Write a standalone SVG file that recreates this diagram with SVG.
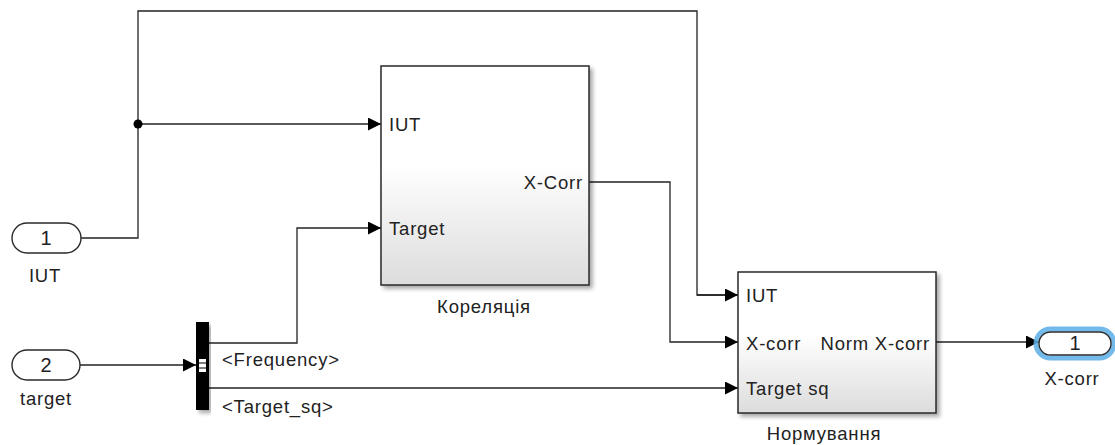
<svg xmlns="http://www.w3.org/2000/svg" width="1115" height="445" viewBox="0 0 1115 445">
  <defs>
    <linearGradient id="blockFill" x1="0" y1="0" x2="0" y2="1">
      <stop offset="0" stop-color="#ffffff"/>
      <stop offset="0.45" stop-color="#ffffff"/>
      <stop offset="1" stop-color="#dcdcdc"/>
    </linearGradient>
    <filter id="shadow" x="-10%" y="-10%" width="125%" height="125%">
      <feGaussianBlur in="SourceAlpha" stdDeviation="2"/>
      <feOffset dx="3" dy="3" result="b"/>
      <feComponentTransfer><feFuncA type="linear" slope="0.35"/></feComponentTransfer>
      <feMerge><feMergeNode/><feMergeNode in="SourceGraphic"/></feMerge>
    </filter>
    <marker id="arrow" viewBox="0 0 10 10" refX="10" refY="5" markerWidth="14" markerHeight="13" markerUnits="userSpaceOnUse" orient="auto">
      <path d="M0,0 L10,5 L0,10 z" fill="#000"/>
    </marker>
  </defs>
  <style>
    text { font-family: "Liberation Sans", Arial, sans-serif; fill: #222; font-size: 18.5px; letter-spacing: 0.8px; }
    .mid { text-anchor: middle; }
    .end { text-anchor: end; }
    .num { font-size: 20px; text-anchor: middle; letter-spacing: 0; }
    .blk { fill: url(#blockFill); stroke: #2a2a2a; stroke-width: 1.5; filter: url(#shadow); }
    .pill { fill: #fff; stroke: #2a2a2a; stroke-width: 1.4; }
    .wire { fill: none; stroke: #222; stroke-width: 1.3; }
    .arr { marker-end: url(#arrow); }
  </style>

  <!-- connectors -->
  <g id="connectors">
    <polyline class="wire" points="81,238 138,238 138,11 697,11 697,295 737,295"/>
    <line class="wire arr" x1="697" y1="295" x2="738" y2="295"/>
    <line class="wire arr" x1="138" y1="124" x2="381" y2="124"/>
    <circle cx="138" cy="124" r="4.5" fill="#000"/>
    <line class="wire arr" x1="80" y1="365" x2="196" y2="365"/>
    <polyline class="wire arr" points="209,343 297,343 297,228 381,228"/>
    <line class="wire arr" x1="209" y1="388" x2="738" y2="388"/>
    <polyline class="wire arr" points="589,182 670,182 670,342 738,342"/>
    <line class="wire arr" x1="936" y1="342" x2="1039" y2="342"/>
    <text x="222" y="366">&lt;Frequency&gt;</text>
    <text x="222" y="413">&lt;Target_sq&gt;</text>
  </g>

  <!-- input port 1 -->
  <g id="in1">
    <rect class="pill" x="12" y="223" width="69" height="30" rx="15"/>
    <text class="num" x="46" y="245">1</text>
    <text class="mid" x="45" y="282">IUT</text>
  </g>

  <!-- input port 2 -->
  <g id="in2">
    <rect class="pill" x="12" y="350" width="68" height="30" rx="15"/>
    <text class="num" x="46" y="372">2</text>
    <text class="mid" x="46" y="405">target</text>
  </g>

  <!-- bus selector -->
  <g id="busSelector">
    <rect x="196" y="322" width="13" height="88" fill="#000" filter="url(#shadow)"/>
    <rect x="199" y="359" width="7" height="13" fill="#fff"/>
    <line x1="199" y1="363" x2="206" y2="363" stroke="#000" stroke-width="1"/>
    <line x1="199" y1="368" x2="206" y2="368" stroke="#000" stroke-width="1"/>
  </g>

  <!-- correlation subsystem -->
  <g id="correlation">
    <rect class="blk" x="381" y="66" width="208" height="219"/>
    <text x="389" y="131">IUT</text>
    <text x="389" y="235">Target</text>
    <text class="end" x="583" y="189">X-Corr</text>
    <text class="mid" x="484" y="313">Кореляція</text>
  </g>

  <!-- normalization subsystem -->
  <g id="normalization">
    <rect class="blk" x="738" y="272" width="198" height="141"/>
    <text x="746" y="302">IUT</text>
    <text x="746" y="350">X-corr</text>
    <text x="746" y="395">Target sq</text>
    <text class="end" x="930" y="350">Norm X-corr</text>
    <text class="mid" x="824" y="440">Нормування</text>
  </g>

  <!-- output port 1 (selected) -->
  <g id="out1">
    <rect x="1036" y="329" width="78" height="29" rx="14.5" fill="none" stroke="#5aaee8" stroke-width="5" opacity="0.85"/>
    <rect class="pill" x="1039" y="332" width="72" height="23" rx="11.5"/>
    <text class="num" x="1075" y="350">1</text>
    <text class="mid" x="1072" y="385">X-corr</text>
  </g>
</svg>
